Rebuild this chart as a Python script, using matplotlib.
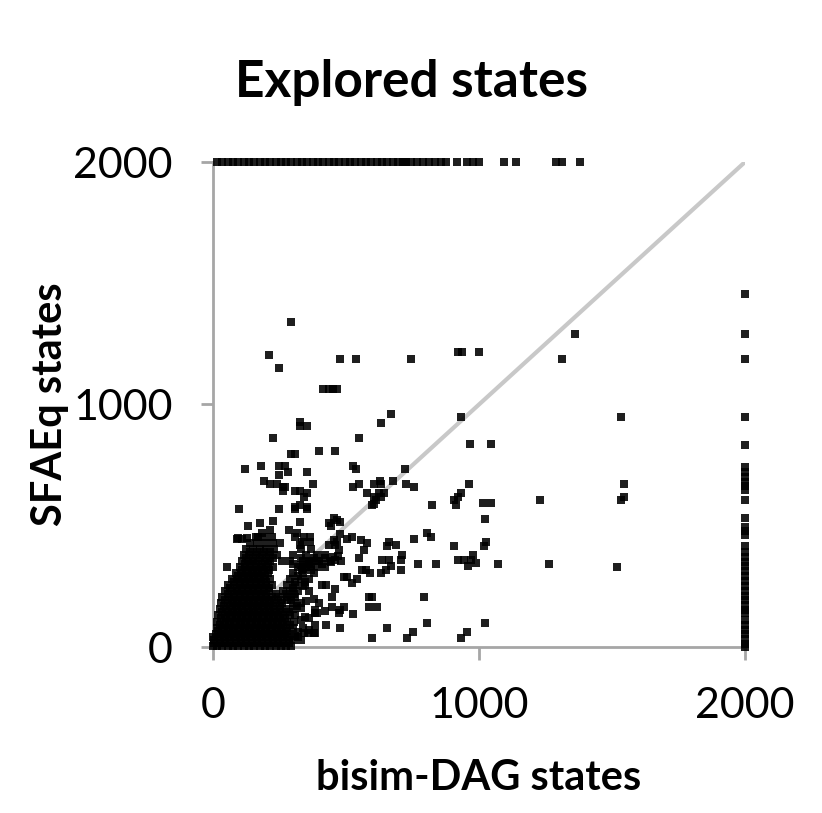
import matplotlib
matplotlib.use("Agg")
import matplotlib.pyplot as plt

plt.rcParams['font.family'] = ['Lato', 'DejaVu Sans']

title = "Explored states"
xlabel = "bisim-DAG states"
ylabel = "SFAEq states"
ticks = [0, 1000, 2000]
cap = 2000

# runs that hit the limit on SFAEq side (y = 2000)
top_row_x = [15, 35, 55, 75, 95, 115, 135, 155, 175, 195, 215, 235, 255, 275, 295,
             315, 335, 355, 375, 395, 415, 435, 455, 475, 495, 515, 535, 555, 575,
             595, 615, 635, 655, 675, 695, 715, 725,
             743, 766, 789, 811, 834, 857, 875, 919, 955, 977, 1000, 1093, 1140,
             1291, 1313, 1381]

# runs that hit the limit on bisim-DAG side (x = 2000)
right_col_y = [1456, 1291, 1188, 948, 833, 742, 722, 700, 680, 662, 647, 606, 532,
               495, 478, 462, 416, 392, 372, 352, 332, 312, 292, 272, 252, 232,
               212, 192, 172, 152, 140, 111, 92, 72, 52, 32, 14, 0]

# scattered points
cloud = [(294, 1341), (212, 1203), (249, 1152), (479, 1189), (537, 1189), (746, 1189),
         (920, 1215), (935, 1215), (1000, 1215), (415, 1063), (435, 1063), (452, 1063),
         (468, 1063), (670, 962), (630, 924), (931, 950), (328, 928), (328, 911),
         (354, 911), (225, 862), (550, 862), (295, 797), (307, 797), (399, 810),
         (457, 810), (965, 836), (1046, 836), (121, 734), (179, 748), (249, 748),
         (272, 748), (249, 709), (283, 722), (354, 722), (527, 748), (537, 734),
         (723, 734), (190, 683), (215, 672), (240, 672), (263, 661), (263, 642),
         (272, 661), (376, 672), (309, 645), (328, 642), (354, 633), (343, 620),
         (99, 569), (249, 569), (309, 578), (328, 585), (354, 578), (309, 569),
         (354, 569), (548, 672), (527, 661), (605, 672), (628, 683), (630, 672),
         (677, 683), (580, 633), (605, 620), (624, 633), (643, 633), (630, 620),
         (611, 605), (599, 585), (605, 591), (725, 672), (756, 661), (825, 585),
         (907, 605), (913, 585), (920, 620), (932, 633), (963, 672), (1014, 595),
         (1045, 595), (1023, 529), (133, 497), (177, 510), (184, 471), (171, 455),
         (215, 482), (225, 519), (89, 444), (108, 444), (284, 482), (316, 471),
         (328, 517), (328, 421), (309, 455), (341, 455), (366, 455), (366, 435),
         (335, 431), (435, 510), (454, 530), (467, 523), (479, 517), (442, 497),
         (479, 468), (504, 447), (523, 455), (467, 435), (473, 400), (435, 421),
         (454, 441), (460, 421), (555, 441), (580, 427), (567, 400), (662, 435),
         (687, 421), (655, 416), (756, 444), (806, 471), (819, 455), (907, 416),
         (1020, 416), (1026, 435), (548, 365), (636, 359), (662, 359), (706, 359),
         (711, 379), (668, 332), (649, 318), (630, 304), (592, 304), (574, 318),
         (562, 318), (706, 318), (769, 342), (838, 342), (920, 359), (945, 359),
         (957, 332), (970, 359), (976, 379), (989, 345), (1070, 342), (542, 282),
         (523, 262), (504, 290), (492, 290), (410, 256), (423, 256), (460, 241),
         (448, 208), (586, 205), (599, 205), (586, 167), (618, 167), (794, 205),
         (492, 167), (479, 153), (527, 138), (423, 91), (385, 91), (381, 56),
         (341, 56), (479, 77), (653, 77), (806, 100), (750, 63), (730, 39),
         (599, 39), (932, 39), (955, 63), (1023, 100), (309, 44), (1360, 1289),
         (1313, 1189), (1533, 950), (1546, 672), (1546, 620), (1533, 606),
         (1231, 606), (1518, 328), (1265, 342), (52, 331), (95, 448), (127, 448),
         (330, 340), (360, 350), (390, 355), (420, 365), (450, 370), (470, 375),
         (340, 320), (370, 330), (460, 359), (445, 352), (340, 250), (360, 230),
         (380, 200), (400, 180), (350, 190), (330, 160), (310, 130), (330, 110),
         (360, 120), (390, 140), (420, 150), (340, 80), (320, 60), (360, 70),
         (300, 30), (330, 30), (385, 58), (359, 58), (321, 41), (347, 124),
         (385, 153), (448, 167), (472, 140), (385, 139)]

# dense part near the origin, read row by row (y: x values)
blob_rows = {
    5: [0, 15, 35, 55, 75, 95, 115, 135, 155, 175, 195, 215, 235, 255, 275, 295],
    17: [5, 25, 45, 65, 85, 105, 125, 145, 165, 185, 205, 225, 245, 265, 285],
    30: [5, 25, 45, 65, 85, 105, 125, 145, 165, 185, 205, 225, 245, 265, 285],
    42: [0, 20, 40, 60, 80, 100, 120, 140, 160, 180, 200, 220, 240, 260, 280],
    55: [10, 30, 50, 70, 90, 110, 130, 150, 170, 190, 210, 230, 250, 270, 290],
    67: [20, 40, 60, 80, 100, 120, 140, 160, 180, 200, 220, 240, 260, 280],
    80: [15, 35, 55, 75, 95, 115, 135, 155, 175, 195, 215, 235, 255, 275, 300],
    92: [25, 45, 65, 85, 105, 125, 145, 165, 185, 205, 225, 245, 265, 290],
    105: [15, 40, 60, 80, 100, 120, 140, 160, 180, 200, 220, 240, 260, 280, 305],
    118: [30, 50, 70, 90, 110, 130, 150, 170, 190, 210, 230, 250, 270],
    130: [20, 45, 65, 85, 105, 125, 145, 165, 185, 205, 225, 245, 265, 290],
    143: [35, 55, 75, 95, 115, 135, 155, 175, 195, 215, 235, 255, 285],
    155: [25, 50, 70, 90, 110, 130, 150, 170, 190, 210, 230, 250, 275, 300],
    168: [40, 65, 85, 105, 125, 145, 165, 185, 205, 225, 250, 315],
    180: [30, 55, 75, 95, 115, 135, 155, 175, 195, 215, 235, 260, 300, 330],
    193: [45, 70, 90, 110, 130, 150, 170, 190, 210, 230, 255, 280, 295],
    205: [35, 60, 80, 100, 120, 140, 160, 180, 200, 220, 245, 280, 310],
    218: [55, 80, 100, 120, 140, 160, 180, 200, 235, 275, 305],
    230: [45, 70, 90, 110, 130, 150, 170, 190, 210, 265, 290, 320],
    243: [65, 90, 110, 130, 150, 170, 190, 210, 300],
    255: [55, 80, 100, 120, 140, 160, 180, 200, 220, 280, 310, 345],
    268: [80, 100, 120, 140, 160, 180, 200, 310, 345],
    280: [70, 90, 110, 130, 150, 170, 190, 215, 290, 330, 360],
    293: [95, 115, 135, 155, 175, 195, 320],
    305: [85, 105, 125, 145, 165, 185, 205, 300, 340, 380],
    318: [110, 130, 150, 170, 190, 210, 335, 370],
    330: [100, 120, 140, 160, 180, 200, 225, 320, 350, 390, 420],
    343: [120, 140, 160, 185, 205, 300, 360, 410],
    355: [110, 130, 150, 170, 195, 215, 260, 290, 340, 370, 400, 440, 480],
    368: [125, 150, 175, 200, 225, 330, 380],
    380: [115, 135, 160, 185, 210, 240, 300, 350, 390, 420],
    393: [140, 165, 190, 215],
    405: [125, 150, 175, 200, 230, 330, 370],
    430: [140, 165, 195, 225, 250],
    455: [160, 190, 220],
}

xs = [p[0] for p in cloud] + top_row_x + [cap] * len(right_col_y)
ys = [p[1] for p in cloud] + [cap] * len(top_row_x) + right_col_y
for yy, row in blob_rows.items():
    xs += row
    ys += [yy] * len(row)

fig = plt.figure(figsize=(8.22, 8.13), dpi=100)
ax = fig.add_axes([213 / 822, 1 - 647 / 813, 532 / 822, 485 / 813])

ax.plot([0, cap], [0, cap], color='#c8c8c8', lw=3, zorder=1, solid_capstyle='butt')
ax.scatter(xs, ys, marker='s', s=40, c='black', alpha=0.88, linewidths=0,
           clip_on=False, zorder=3)

ax.set_xlim(0, cap)
ax.set_ylim(0, cap)
ax.set_xticks(ticks)
ax.set_yticks(ticks)
ax.set_xticklabels([str(t) for t in ticks])
ax.set_yticklabels([str(t) for t in ticks])

for s in ['top', 'right']:
    ax.spines[s].set_visible(False)
for s in ['left', 'bottom']:
    ax.spines[s].set_color('#a6a6a6')
    ax.spines[s].set_linewidth(2)
ax.tick_params(direction='out', length=9, width=2, color='#a6a6a6',
               labelsize=31, labelcolor='black')
ax.tick_params(axis='y', pad=20)
ax.tick_params(axis='x', pad=20)

fig.text(0.5, 1 - 97 / 813, title, ha='center', va='baseline',
         fontsize=37, fontweight='bold')
fig.text(479 / 822, 1 - 790 / 813, xlabel, ha='center', va='baseline',
         fontsize=30, fontweight='bold')
fig.text(50 / 822, 1 - 404 / 813, ylabel, ha='center', va='center',
         rotation=90, fontsize=30, fontweight='bold')

fig.savefig("out.png", dpi=100)
